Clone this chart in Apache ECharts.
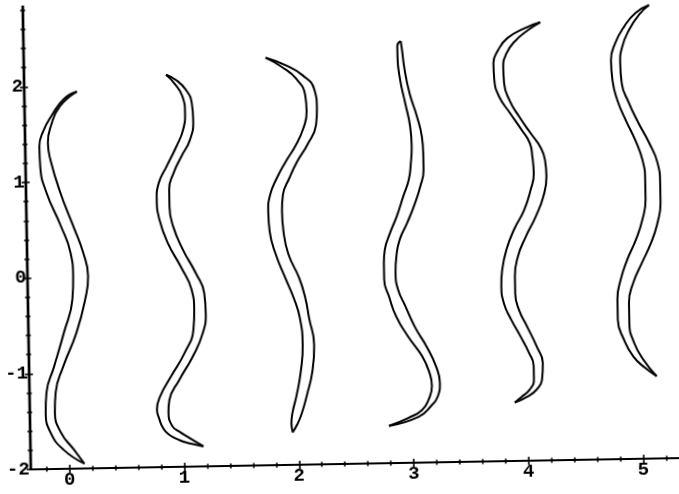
<!DOCTYPE html>
<html>
<head>
<meta charset="utf-8">
<script src="https://cdn.jsdelivr.net/npm/echarts@6/dist/echarts.min.js"></script>
<style>
  html, body { margin: 0; padding: 0; background: #fff; overflow: hidden; }
  /* the scanned plot sits about one degree off square */
  #main { width: 679px; height: 494px; transform: rotate(-1deg); transform-origin: 50% 50%; }
</style>
</head>
<body>
<div id="main"></div>
<script>
// axis ranges and ticks
const xMin = -0.34, xMax = 5.31
const yMin = -2, yMax = 2.85
const xMajorTicks = [0, 1, 2, 3, 4, 5]
const xMinorTicks = [-0.2, 0.2, 0.4, 0.6, 0.8, 1.2, 1.4, 1.6, 1.8, 2.2, 2.4, 2.6, 2.8,
  3.2, 3.4, 3.6, 3.8, 4.2, 4.4, 4.6, 4.8, 5.2]
const yMajorTicks = [-2, -1, 0, 1, 2]
const yMinorTicks = [-1.8, -1.6, -1.4, -1.2, -0.8, -0.6, -0.4, -0.2, 0.2, 0.4, 0.6, 0.8,
  1.2, 1.4, 1.6, 1.8, 2.2, 2.4, 2.6, 2.8]

// each band: two edges, from the top tip to the bottom tip
const curve0Left = [[0.12, 1.94], [0.01, 1.87], [-0.10, 1.70], [-0.18, 1.53], [-0.215, 1.37], [-0.21, 1.16], [-0.16, 0.89], [-0.04, 0.54], [0.04, 0.26], [0.06, 0.01], [0.05, -0.23], [-0.03, -0.58], [-0.12, -0.93], [-0.19, -1.20], [-0.20, -1.41], [-0.16, -1.62], [-0.05, -1.80], [0.13, -1.95]]
const curve0Right = [[0.12, 1.94], [-0.03, 1.79], [-0.11, 1.59], [-0.14, 1.41], [-0.12, 1.23], [-0.04, 0.89], [0.07, 0.53], [0.15, 0.26], [0.19, 0.01], [0.16, -0.24], [0.08, -0.58], [-0.04, -0.93], [-0.11, -1.20], [-0.12, -1.41], [-0.07, -1.62], [0.04, -1.80], [0.13, -1.95]]

const curve1Left = [[0.90, 2.10], [0.97, 2.01], [1.04, 1.87], [1.06, 1.70], [1.04, 1.52], [0.98, 1.35], [0.89, 1.14], [0.82, 0.97], [0.80, 0.80], [0.82, 0.59], [0.89, 0.34], [1.00, 0.09], [1.09, -0.15], [1.11, -0.36], [1.10, -0.57], [1.02, -0.81], [0.90, -1.05], [0.80, -1.26], [0.77, -1.40], [0.79, -1.50], [0.82, -1.59], [0.87, -1.66], [0.96, -1.72], [1.06, -1.76], [1.17, -1.79]]
const curve1Right = [[0.90, 2.10], [0.99, 2.04], [1.07, 1.94], [1.12, 1.80], [1.13, 1.62], [1.10, 1.42], [1.02, 1.24], [0.95, 1.07], [0.91, 0.90], [0.91, 0.72], [0.94, 0.51], [1.02, 0.27], [1.13, 0.02], [1.20, -0.19], [1.21, -0.40], [1.18, -0.61], [1.09, -0.85], [0.97, -1.09], [0.88, -1.30], [0.87, -1.43], [0.90, -1.57], [0.96, -1.63], [1.05, -1.70], [1.17, -1.79]]

const curve2Left = [[1.77, 2.26], [1.91, 2.16], [2.03, 2.04], [2.11, 1.86], [2.12, 1.69], [2.09, 1.52], [2.02, 1.34], [1.93, 1.17], [1.85, 1.00], [1.79, 0.83], [1.77, 0.65], [1.78, 0.44], [1.83, 0.20], [1.91, -0.05], [1.98, -0.26], [2.03, -0.47], [2.05, -0.75], [2.03, -1.02], [1.99, -1.27], [1.95, -1.46], [1.94, -1.57], [1.95, -1.66]]
const curve2Right = [[1.77, 2.26], [1.94, 2.18], [2.09, 2.07], [2.19, 1.92], [2.21, 1.72], [2.20, 1.55], [2.12, 1.34], [2.03, 1.17], [1.96, 1.00], [1.90, 0.82], [1.89, 0.65], [1.90, 0.44], [1.94, 0.20], [2.03, -0.05], [2.08, -0.26], [2.11, -0.47], [2.15, -0.75], [2.13, -1.03], [2.08, -1.27], [2.03, -1.47], [1.99, -1.58], [1.95, -1.66]]

const curve3Left = [[2.95, 2.41], [2.92, 2.36], [2.92, 2.25], [2.94, 2.00], [2.98, 1.76], [3.02, 1.51], [3.03, 1.31], [3.02, 1.13], [3.00, 0.96], [2.95, 0.79], [2.89, 0.58], [2.83, 0.41], [2.78, 0.23], [2.77, 0.09], [2.77, -0.08], [2.81, -0.26], [2.87, -0.47], [2.97, -0.68], [3.09, -0.89], [3.15, -1.06], [3.17, -1.20], [3.14, -1.34], [3.08, -1.45], [2.96, -1.53], [2.79, -1.61]]
const curve3Right = [[2.95, 2.41], [2.96, 2.32], [2.98, 2.11], [3.02, 1.86], [3.08, 1.62], [3.12, 1.41], [3.13, 1.23], [3.13, 1.06], [3.10, 0.89], [3.04, 0.68], [2.98, 0.51], [2.91, 0.33], [2.88, 0.16], [2.87, -0.01], [2.89, -0.19], [2.95, -0.36], [3.03, -0.58], [3.13, -0.79], [3.21, -1.00], [3.24, -1.17], [3.22, -1.31], [3.16, -1.41], [3.05, -1.52], [2.79, -1.61]]

const curve4Left = [[4.17, 2.58], [4.03, 2.52], [3.88, 2.42], [3.80, 2.30], [3.755, 2.16], [3.76, 1.99], [3.80, 1.81], [3.89, 1.64], [3.99, 1.46], [4.06, 1.32], [4.08, 1.18], [4.09, 1.00], [4.06, 0.83], [4.00, 0.62], [3.91, 0.42], [3.84, 0.21], [3.80, 0.00], [3.79, -0.17], [3.81, -0.35], [3.87, -0.52], [3.95, -0.70], [4.02, -0.87], [4.06, -1.01], [4.06, -1.15], [4.02, -1.26], [3.95, -1.33], [3.89, -1.39]]
const curve4Right = [[4.17, 2.58], [4.06, 2.50], [3.94, 2.38], [3.87, 2.26], [3.84, 2.12], [3.845, 1.95], [3.89, 1.77], [3.97, 1.60], [4.07, 1.42], [4.15, 1.28], [4.19, 1.14], [4.20, 0.97], [4.17, 0.76], [4.10, 0.55], [4.01, 0.34], [3.94, 0.14], [3.91, -0.07], [3.91, -0.25], [3.94, -0.42], [4.01, -0.60], [4.09, -0.81], [4.14, -0.98], [4.13, -1.16], [4.08, -1.26], [4.00, -1.33], [3.89, -1.39]]

const curve5Left = [[5.12, 2.74], [5.00, 2.66], [4.90, 2.52], [4.82, 2.35], [4.78, 2.17], [4.79, 1.96], [4.83, 1.75], [4.90, 1.54], [4.98, 1.33], [5.04, 1.12], [5.06, 0.91], [5.06, 0.71], [5.03, 0.50], [4.97, 0.29], [4.89, 0.08], [4.83, -0.13], [4.80, -0.33], [4.80, -0.54], [4.85, -0.75], [4.93, -0.93], [5.03, -1.05], [5.13, -1.14]]
const curve5Right = [[5.12, 2.74], [5.03, 2.64], [4.94, 2.48], [4.88, 2.31], [4.86, 2.14], [4.87, 1.93], [4.93, 1.72], [5.01, 1.51], [5.10, 1.30], [5.17, 1.09], [5.19, 0.88], [5.19, 0.67], [5.16, 0.46], [5.10, 0.25], [5.02, 0.05], [4.94, -0.16], [4.90, -0.37], [4.90, -0.58], [4.94, -0.79], [5.02, -0.97], [5.13, -1.14]]

const edges = [curve0Left, curve0Right, curve1Left, curve1Right, curve2Left, curve2Right,
  curve3Left, curve3Right, curve4Left, curve4Right, curve5Left, curve5Right]

const labelStyle = {
  color: '#000',
  fontFamily: '"Liberation Mono", "DejaVu Sans Mono", monospace',
  fontWeight: 'bold',
  fontSize: 19
}

// ticks cross the axis, so every tick set is drawn once outside and once inside
function makeAxis (dir, ticks, len, inside, withLabels) {
  return {
    type: 'value',
    min: dir === 'x' ? xMin : yMin,
    max: dir === 'x' ? xMax : yMax,
    position: dir === 'x' ? 'bottom' : 'left',
    axisLine: { show: true, onZero: false, lineStyle: { color: '#000', width: 2.2 } },
    axisTick: { show: true, inside, length: len, customValues: ticks, lineStyle: { color: '#000', width: 1.6 } },
    axisLabel: withLabels
      ? { show: true, customValues: ticks, margin: dir === 'x' ? 2 : 1, ...labelStyle }
      : { show: false },
    splitLine: { show: false }
  }
}

var myChart = echarts.init(document.getElementById('main'))
myChart.setOption({
  animation: false,
  backgroundColor: '#fff',
  grid: { left: 23, right: 4, top: 0, bottom: 30, containLabel: false },
  xAxis: [
    makeAxis('x', xMajorTicks, 4, false, true),
    makeAxis('x', xMajorTicks, 4, true, false),
    makeAxis('x', xMinorTicks, 2.5, false, false),
    makeAxis('x', xMinorTicks, 2.5, true, false)
  ],
  yAxis: [
    makeAxis('y', yMajorTicks, 4, false, true),
    makeAxis('y', yMajorTicks, 4, true, false),
    makeAxis('y', yMinorTicks, 2.5, false, false),
    makeAxis('y', yMinorTicks, 2.5, true, false)
  ],
  series: edges.map(d => ({
    type: 'line',
    data: d,
    xAxisIndex: 0,
    yAxisIndex: 0,
    smooth: 0.5,
    symbol: 'none',
    silent: true,
    lineStyle: { color: '#000', width: 2 }
  }))
})
</script>
</body>
</html>
